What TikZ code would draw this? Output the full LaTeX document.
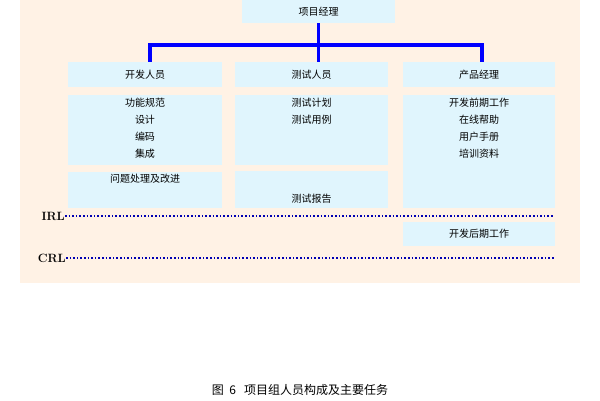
\documentclass[tikz,border=0pt]{standalone}
\usepackage{fontspec}
\newfontfamily\cjk{Noto Sans CJK SC}
\newcommand{\topbox}[3]{\parbox[c][#1][t]{#2}{\centering #3}}
\begin{document}
\begin{tikzpicture}[x=1pt,y=-1pt,
  bx/.style={fill=cyan!12, draw=none, font=\cjk\fontsize{10}{17}\selectfont, align=center},
  conn/.style={blue, line width=3.5pt},
  lvl/.style={blue!70!black, dotted, line width=1.6pt},
  lab/.style={font=\bfseries\fontsize{12}{12}\selectfont, anchor=east, inner sep=0pt}]
\useasboundingbox (0,0) rectangle (600,400);
\fill[orange!10] (20,0) rectangle (580,283);
% boxes
\node[bx, minimum width=153pt, minimum height=23pt] (pm) at (318.5,11.5) {项目经理};
\node[bx, minimum width=154pt, minimum height=25pt] (dev) at (145,74.5) {开发人员};
\node[bx, minimum width=153pt, minimum height=25pt] (test) at (311.5,74.5) {测试人员};
\node[bx, minimum width=152pt, minimum height=25pt] (prod) at (479,74.5) {产品经理};
\node[bx, inner xsep=2pt, inner ysep=3pt, anchor=north] (devt) at (145,95) {\topbox{64pt}{150pt}{功能规范\\设计\\编码\\集成}};
\node[bx, inner xsep=2pt, inner ysep=3pt, anchor=north] (testt) at (311.5,95) {\topbox{64pt}{149pt}{测试计划\\测试用例}};
\node[bx, inner xsep=2pt, inner ysep=3pt, anchor=north] (prodt) at (479,95) {\topbox{107pt}{148pt}{开发前期工作\\在线帮助\\用户手册\\培训资料}};
\node[bx, inner xsep=2pt, inner ysep=2pt, anchor=north] (devi) at (145,172) {\topbox{32pt}{150pt}{问题处理及改进}};
\node[bx, minimum width=153pt, minimum height=36pt, anchor=south, inner sep=4pt] (testr) at (311.5,208) {\vbox to 28pt{\vfill\hbox{测试报告}}};
\node[bx, minimum width=152pt, minimum height=24pt] (post) at (479,234) {开发后期工作};
% connectors
\coordinate (hub) at (318,45);
\draw[conn] (pm.south) -- (pm.south |- dev.north);
\draw[conn] (dev.north -| 150,0) |- (hub) -| (prod.north -| 482,0);
% levels
\node[lab] (irl) at (65,216) {IRL};
\node[lab] (crl) at (66,258) {CRL};
\coordinate (irle) at (553,216);
\coordinate (crle) at (555,258);
\draw[lvl] (irl.east) -- (irle);
\draw[lvl] (crl.east) -- (crle);
\node[font=\cjk\fontsize{12}{12}\selectfont] (cap) at (300,390) {图\ \ 6\ \ \ 项目组人员构成及主要任务};
\end{tikzpicture}
\end{document}
